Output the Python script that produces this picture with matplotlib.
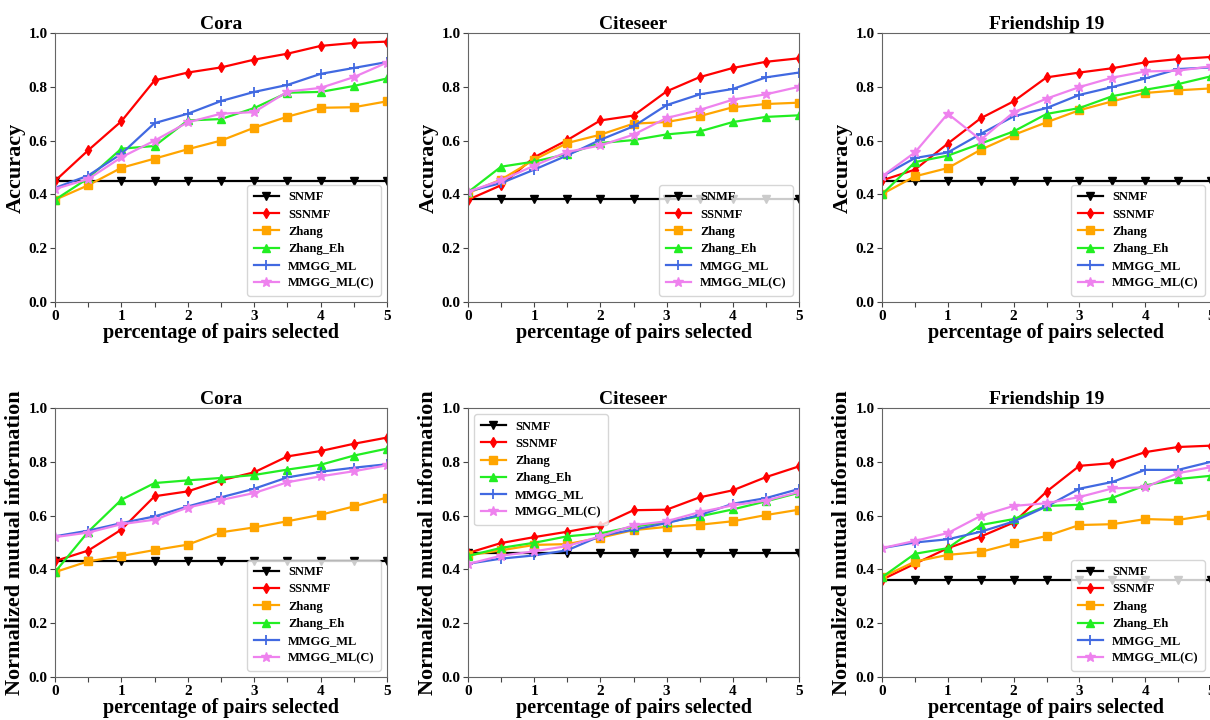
import numpy as np
import matplotlib
matplotlib.use("Agg")
import matplotlib.pyplot as plt

plt.rcParams['font.family'] = ['Liberation Serif', 'DejaVu Serif']
plt.rcParams['font.weight'] = 'bold'
plt.rcParams['axes.labelweight'] = 'bold'
plt.rcParams['axes.titleweight'] = 'bold'

x = [0, 0.5, 1, 1.5, 2, 2.5, 3, 3.5, 4, 4.5, 5]
methods = ["SNMF", "SSNMF", "Zhang", "Zhang_Eh", "MMGG_ML", "MMGG_ML(C)"]
colors = ["#000000", "#ff0000", "#ffa500", "#22ee22", "#4169e1", "#ee82ee"]
markers = ["v", "d", "s", "^", "+", "*"]

# Accuracy
acc_cora = {
    "SNMF":       [0.45] * 11,
    "SSNMF":      [0.45, 0.564, 0.672, 0.824, 0.853, 0.872, 0.901, 0.923, 0.952, 0.963, 0.968],
    "Zhang":      [0.38, 0.434, 0.499, 0.533, 0.568, 0.600, 0.648, 0.689, 0.722, 0.724, 0.746],
    "Zhang_Eh":   [0.38, 0.46, 0.57, 0.58, 0.675, 0.68, 0.721, 0.778, 0.781, 0.803, 0.831],
    "MMGG_ML":    [0.424, 0.47, 0.551, 0.665, 0.70, 0.747, 0.781, 0.807, 0.848, 0.870, 0.892],
    "MMGG_ML(C)": [0.42, 0.457, 0.538, 0.600, 0.668, 0.70, 0.706, 0.782, 0.796, 0.836, 0.890],
}
acc_citeseer = {
    "SNMF":       [0.383] * 11,
    "SSNMF":      [0.38, 0.434, 0.538, 0.602, 0.675, 0.693, 0.783, 0.836, 0.870, 0.893, 0.906],
    "Zhang":      [0.405, 0.455, 0.529, 0.591, 0.622, 0.663, 0.669, 0.691, 0.724, 0.736, 0.741],
    "Zhang_Eh":   [0.408, 0.503, 0.522, 0.550, 0.591, 0.602, 0.623, 0.634, 0.669, 0.688, 0.694],
    "MMGG_ML":    [0.411, 0.442, 0.492, 0.545, 0.603, 0.653, 0.732, 0.772, 0.792, 0.835, 0.853],
    "MMGG_ML(C)": [0.41, 0.452, 0.507, 0.558, 0.582, 0.622, 0.684, 0.714, 0.752, 0.772, 0.800],
}
acc_friend = {
    "SNMF":       [0.45] * 11,
    "SSNMF":      [0.452, 0.492, 0.589, 0.683, 0.746, 0.835, 0.853, 0.869, 0.891, 0.903, 0.911],
    "Zhang":      [0.401, 0.467, 0.498, 0.566, 0.621, 0.668, 0.713, 0.746, 0.777, 0.787, 0.794],
    "Zhang_Eh":   [0.40, 0.52, 0.544, 0.589, 0.634, 0.699, 0.721, 0.765, 0.789, 0.81, 0.839],
    "MMGG_ML":    [0.467, 0.535, 0.556, 0.625, 0.690, 0.721, 0.770, 0.799, 0.831, 0.866, 0.872],
    "MMGG_ML(C)": [0.467, 0.556, 0.700, 0.603, 0.705, 0.756, 0.799, 0.834, 0.857, 0.860, 0.876],
}

# Normalized mutual information
nmi_cora = {
    "SNMF":       [0.43] * 11,
    "SSNMF":      [0.431, 0.470, 0.548, 0.672, 0.690, 0.731, 0.761, 0.820, 0.840, 0.867, 0.890],
    "Zhang":      [0.390, 0.430, 0.450, 0.472, 0.492, 0.538, 0.556, 0.579, 0.603, 0.634, 0.667],
    "Zhang_Eh":   [0.39, 0.54, 0.659, 0.721, 0.731, 0.740, 0.751, 0.771, 0.789, 0.823, 0.849],
    "MMGG_ML":    [0.523, 0.544, 0.572, 0.597, 0.634, 0.668, 0.700, 0.742, 0.763, 0.778, 0.791],
    "MMGG_ML(C)": [0.52, 0.537, 0.568, 0.585, 0.630, 0.658, 0.684, 0.724, 0.746, 0.765, 0.787],
}
nmi_citeseer = {
    "SNMF":       [0.461] * 11,
    "SSNMF":      [0.461, 0.498, 0.520, 0.540, 0.563, 0.620, 0.622, 0.668, 0.694, 0.743, 0.783],
    "Zhang":      [0.452, 0.471, 0.491, 0.494, 0.518, 0.546, 0.558, 0.566, 0.579, 0.602, 0.622],
    "Zhang_Eh":   [0.45, 0.480, 0.499, 0.523, 0.534, 0.559, 0.576, 0.597, 0.623, 0.653, 0.685],
    "MMGG_ML":    [0.421, 0.44, 0.452, 0.471, 0.524, 0.548, 0.572, 0.602, 0.644, 0.665, 0.699],
    "MMGG_ML(C)": [0.42, 0.451, 0.467, 0.487, 0.523, 0.564, 0.579, 0.613, 0.638, 0.656, 0.688],
}
nmi_friend = {
    "SNMF":       [0.362] * 11,
    "SSNMF":      [0.362, 0.421, 0.479, 0.522, 0.574, 0.689, 0.785, 0.795, 0.836, 0.855, 0.860],
    "Zhang":      [0.371, 0.429, 0.454, 0.465, 0.497, 0.524, 0.565, 0.568, 0.587, 0.584, 0.603],
    "Zhang_Eh":   [0.371, 0.458, 0.479, 0.565, 0.587, 0.636, 0.640, 0.666, 0.712, 0.736, 0.748],
    "MMGG_ML":    [0.479, 0.500, 0.512, 0.540, 0.578, 0.634, 0.700, 0.725, 0.770, 0.770, 0.800],
    "MMGG_ML(C)": [0.479, 0.506, 0.535, 0.599, 0.636, 0.646, 0.669, 0.701, 0.705, 0.758, 0.780],
}

panels = [
    (acc_cora, "Cora", "Accuracy", "lower right"),
    (acc_citeseer, "Citeseer", "Accuracy", "lower right"),
    (acc_friend, "Friendship 19", "Accuracy", "lower right"),
    (nmi_cora, "Cora", "Normalized mutual information", "lower right"),
    (nmi_citeseer, "Citeseer", "Normalized mutual information", "upper left"),
    (nmi_friend, "Friendship 19", "Normalized mutual information", "lower right"),
]

fig = plt.figure(figsize=(12.1, 7.2), dpi=100)
W, H = 1210.0, 720.0
lefts = [55, 468, 882]
widths = [332, 331, 329]
rows = [(33, 302), (408, 677)]

for i, (data, title, ylabel, loc) in enumerate(panels):
    r, c = divmod(i, 3)
    top, bot = rows[r]
    ax = fig.add_axes([lefts[c] / W, 1 - bot / H, widths[c] / W, (bot - top) / H])
    for m, col, mk in zip(methods, colors, markers):
        ms = 7 if mk in ("+", "*") else 5.5
        ax.plot(x, data[m], color=col, marker=mk, markersize=ms, linewidth=1.6,
                markeredgewidth=1.3 if mk == "+" else 1.0, label=m)
    ax.set_xlim(0, 5)
    ax.set_ylim(0, 1.0)
    ax.set_xticks(x)
    ax.set_xticklabels(["0", "", "1", "", "2", "", "3", "", "4", "", "5"])
    ax.set_yticks([0, 0.2, 0.4, 0.6, 0.8, 1.0])
    ax.set_yticklabels(["0.0", "0.2", "0.4", "0.6", "0.8", "1.0"])
    ax.tick_params(labelsize=11, length=3.5, pad=2, color="#444444")
    for s in ax.spines.values():
        s.set_color("#666666")
    ax.set_title(title, fontsize=14, pad=3)
    ax.set_xlabel("percentage of pairs selected", fontsize=14.5, labelpad=0)
    ax.set_ylabel(ylabel, fontsize=16, labelpad=2)
    ax.legend(loc=loc, fontsize=9, handlelength=2.0, labelspacing=0.42,
              borderpad=0.5, handletextpad=0.75)

fig.savefig("out.png", dpi=100)
